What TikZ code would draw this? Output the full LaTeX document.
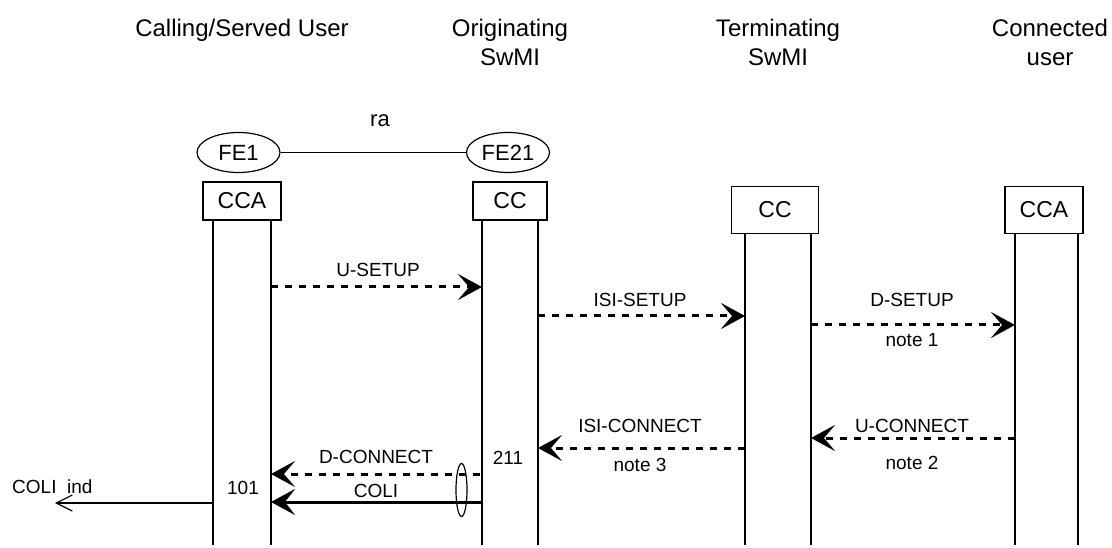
\documentclass[tikz,border=0pt]{standalone}
\usepackage{fontspec}
\setmainfont{Liberation Sans}
\usetikzlibrary{arrows.meta,shapes.geometric}
\begin{document}
\begin{tikzpicture}[x=1pt,y=-1pt,
  hdr/.style={font=\fontsize{24}{29}\selectfont, anchor=base, inner sep=0pt},
  entbox/.style={draw, line width=1.3pt, inner sep=0pt, font=\fontsize{23}{23}\selectfont},
  fe/.style={ellipse, draw, line width=1.2pt, minimum width=83pt, minimum height=40pt, inner sep=0pt, font=\fontsize{22}{22}\selectfont},
  life/.style={line width=1.4pt},
  msg/.style={line width=3pt, dash pattern=on 7pt off 7pt, -{Stealth[length=24pt,width=26pt,inset=11pt]}},
  solidmsg/.style={line width=3pt, -{Stealth[length=24pt,width=26pt,inset=10pt]}},
  thinmsg/.style={line width=1.2pt, -{Straight Barb[length=16pt,width=16pt]}},
  lbl/.style={font=\fontsize{19}{19}\selectfont, anchor=base, inner sep=0pt},
]
\useasboundingbox (0,0) rectangle (1112,548);

% headers
\node[hdr] (h1) at (242,37) {Calling/Served User};
\node[hdr] (h2a) at (510,37) {Originating};
\node[hdr] (h2b) at (510,66) {SwMI};
\node[hdr] (h3a) at (778,37) {Terminating};
\node[hdr] (h3b) at (778,66) {SwMI};
\node[hdr] (h4a) at (1050,37) {Connected};
\node[hdr] (h4b) at (1050,66) {user};

% functional entities
\node[fe] (fe1) at (238.5,152.5) {FE1};
\node[fe] (fe21) at (508,152.5) {FE21};
\draw[line width=1.2pt] (fe1.east) -- (fe21.west);
\node[font=\fontsize{22}{22}\selectfont, anchor=base, inner sep=0pt] (ra) at (380,127) {ra};

% entity boxes
\node[entbox, minimum width=78pt, minimum height=38pt] (b1) at (242,201) {CCA};
\node[entbox, minimum width=74pt, minimum height=38pt] (b2) at (510,201) {CC};
\node[entbox, minimum width=87pt, minimum height=47pt] (b3) at (775,210) {CC};
\node[entbox, minimum width=78pt, minimum height=47pt] (b4) at (1044,210) {CCA};

% lifelines
\coordinate (l1at) at (213,220); \coordinate (l1ab) at (213,545);
\coordinate (l1bt) at (271,220); \coordinate (l1bb) at (271,545);
\coordinate (l2at) at (482,220); \coordinate (l2ab) at (482,545);
\coordinate (l2bt) at (538,220); \coordinate (l2bb) at (538,545);
\coordinate (l3at) at (745,233.5); \coordinate (l3ab) at (745,545);
\coordinate (l3bt) at (811,233.5); \coordinate (l3bb) at (811,545);
\coordinate (l4at) at (1015,233.5); \coordinate (l4ab) at (1015,545);
\coordinate (l4bt) at (1078,233.5); \coordinate (l4bb) at (1078,545);
\foreach \a/\b in {l1at/l1ab,l1bt/l1bb,l2at/l2ab,l2bt/l2bb,l3at/l3ab,l3bt/l3bb,l4at/l4ab,l4bt/l4bb}
  \draw[life] (\a) -- (\b);

% message end points
\coordinate (m1s) at (271,287);  \coordinate (m1e) at (482,287);
\coordinate (m2s) at (538,316);  \coordinate (m2e) at (745,316);
\coordinate (m3s) at (811,325);  \coordinate (m3e) at (1015,325);
\coordinate (m4s) at (1015,438); \coordinate (m4e) at (811,438);
\coordinate (m5s) at (745,448);  \coordinate (m5e) at (538,448);
\coordinate (m6s) at (480,474);  \coordinate (m6e) at (271,474);
\coordinate (m7s) at (482,502);  \coordinate (m7e) at (271,502);
\coordinate (m8s) at (213,503);  \coordinate (m8e) at (55,503);

\draw[msg] (m1s) -- (m1e);
\draw[msg] (m2s) -- (m2e);
\draw[msg] (m3s) -- (m3e);
\draw[msg] (m4s) -- (m4e);
\draw[msg] (m5s) -- (m5e);
\draw[msg] (m6s) -- (m6e);
\draw[solidmsg] (m7s) -- (m7e);
\draw[thinmsg] (m8s) -- (m8e);

% labels
\node[lbl] (t1) at (378,277) {U-SETUP};
\node[lbl] (t2) at (640,307) {ISI-SETUP};
\node[lbl] (t3) at (912,307) {D-SETUP};
\node[lbl] (n1) at (912,346) {note 1};
\node[lbl] (t4) at (912,432) {U-CONNECT};
\node[lbl] (n2) at (912,469) {note 2};
\node[lbl] (t5) at (640,432) {ISI-CONNECT};
\node[lbl] (n3) at (640,471) {note 3};
\node[lbl] (t6) at (376,463) {D-CONNECT};
\node[lbl] (t7) at (376,497) {COLI};
\node[lbl] (n211) at (508,464) {211};
\node[lbl] (n101) at (243,494) {101};
\node[lbl, anchor=base west] (coli) at (12,493) {COLI\ \ ind};

% grouping ellipse
\node[ellipse, draw, line width=1.2pt, minimum width=11pt, minimum height=53pt, inner sep=0pt] (grp) at (461.5,490) {};
\end{tikzpicture}
\end{document}
